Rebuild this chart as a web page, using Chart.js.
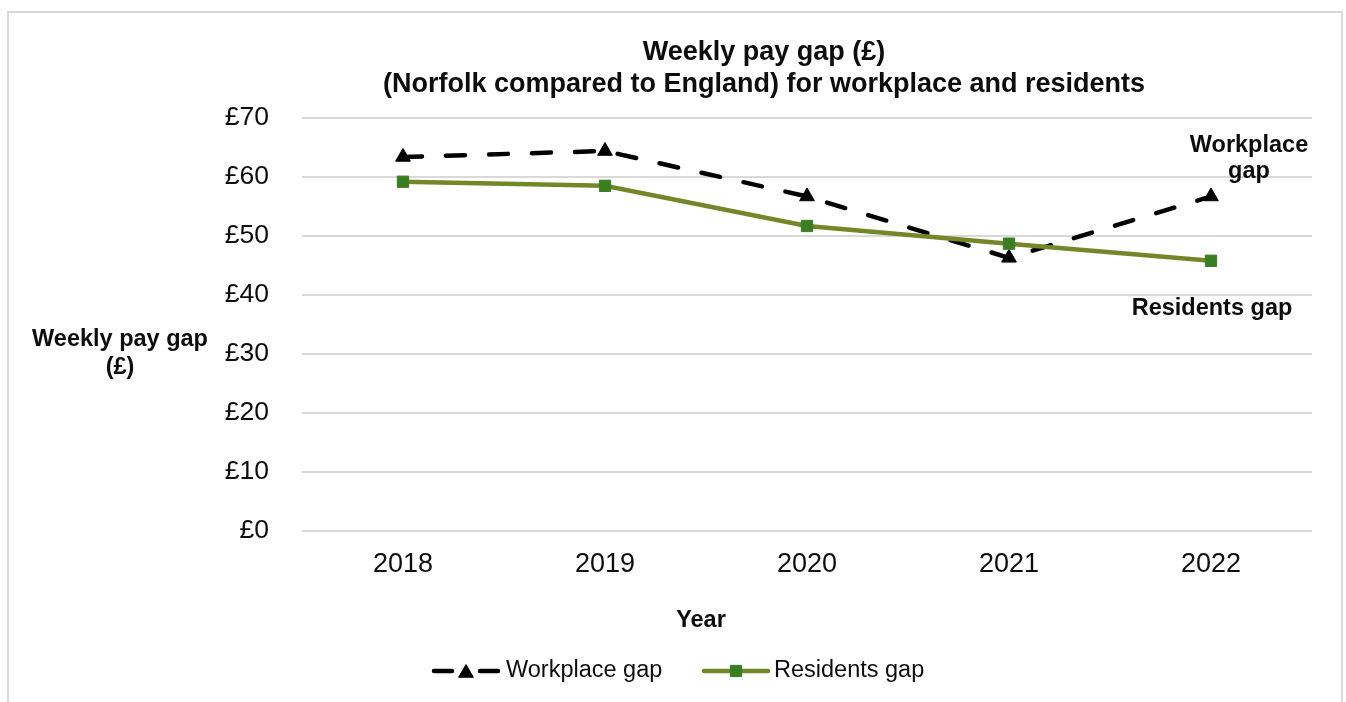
<!DOCTYPE html>
<html>
<head>
<meta charset="utf-8">
<title>Weekly pay gap</title>
<script src="https://cdn.jsdelivr.net/npm/chart.js@4.4.1/dist/chart.umd.min.js"></script>
<style>
  html, body { margin: 0; padding: 0; background: #fff; }
  #wrap { position: relative; width: 1346px; height: 702px; overflow: hidden; }
  #frame { position: absolute; left: 7px; top: 11px; width: 1336px; height: 720px; border: 2px solid #d9d9d9; box-sizing: border-box; }
  #payGapChart { position: absolute; left: 0; top: 0; }
</style>
</head>
<body>
<div id="wrap">
  <div id="frame"></div>
  <canvas id="payGapChart" width="1346" height="702"></canvas>
</div>
<script>
// weekly pay gap, Norfolk vs England (£)
const years = ['2018', '2019', '2020', '2021', '2022'];
const workplaceGap = [63.4, 64.4, 56.7, 46.3, 56.7];
const residentsGap = [59.2, 58.5, 51.7, 48.7, 45.8];
const yTicks = [0, 10, 20, 30, 40, 50, 60, 70];

const seriesNames = ['Workplace gap', 'Residents gap'];
const chartTitle = ['Weekly pay gap (£)', '(Norfolk compared to England) for workplace and residents'];
const yTitle = ['Weekly pay gap', '(£)'];
const xTitle = 'Year';
const endLabels = [['Workplace', 'gap'], ['Residents gap']];

const FONT = '"Liberation Sans", Arial, Helvetica, sans-serif';
const TEXT = '#0d0d0d';

// titles, axis titles, end-of-line labels and the legend are drawn by hand
const textPlugin = {
    id: 'payGapText',
    afterDraw(chart) {
        const { ctx } = chart;
        const xs = chart.scales.x;
        const ys = chart.scales.y;
        ctx.save();
        ctx.fillStyle = TEXT;
        ctx.textAlign = 'center';
        ctx.textBaseline = 'middle';

        ctx.font = `bold 27px ${FONT}`;
        chartTitle.forEach((line, i) => ctx.fillText(line, 764, 53 + i * 32));

        ctx.font = `bold 23.5px ${FONT}`;
        yTitle.forEach((line, i) => ctx.fillText(line, 120, 340 + i * 28));
        ctx.fillText(xTitle, 701, 621);

        // labels next to the last point of each line
        const last = years.length - 1;
        const xEnd = xs.getPixelForValue(last);
        const yW = ys.getPixelForValue(workplaceGap[last]);
        const yR = ys.getPixelForValue(residentsGap[last]);
        endLabels[0].forEach((line, i) => ctx.fillText(line, xEnd + 38, yW - 51 + i * 26));
        endLabels[1].forEach((line, i) => ctx.fillText(line, xEnd + 1, yR + 48));

        // legend: short line sample with marker, then the name
        ctx.font = `23.5px ${FONT}`;
        ctx.textAlign = 'left';
        const legendY = 671;
        const starts = [434, 704];
        const len = 64;
        chart.data.datasets.forEach((ds, i) => {
            const x0 = starts[i];
            ctx.save();
            ctx.strokeStyle = ds.borderColor;
            ctx.lineWidth = ds.borderWidth;
            ctx.lineCap = 'round';
            if (ds.borderDash) {
                // dash either side of the marker
                ctx.beginPath();
                ctx.moveTo(x0, legendY);
                ctx.lineTo(x0 + 18, legendY);
                ctx.moveTo(x0 + len - 18, legendY);
                ctx.lineTo(x0 + len, legendY);
                ctx.stroke();
            } else {
                ctx.beginPath();
                ctx.moveTo(x0, legendY);
                ctx.lineTo(x0 + len, legendY);
                ctx.stroke();
            }
            ctx.restore();

            ctx.save();
            ctx.fillStyle = ds.pointBackgroundColor;
            ctx.strokeStyle = ds.pointBorderColor;
            ctx.lineWidth = ds.pointBorderWidth;
            Chart.helpers.drawPoint(ctx, { pointStyle: ds.pointStyle, radius: ds.pointRadius, rotation: 0, borderWidth: ds.pointBorderWidth }, x0 + len / 2, legendY + (ds.pointStyle === 'triangle' ? 2 : 0));
            ctx.restore();

            ctx.fillText(ds.label, x0 + len + (i === 0 ? 8 : 6), legendY);
        });
        ctx.restore();
    }
};

new Chart(document.getElementById('payGapChart'), {
    type: 'line',
    data: {
        labels: years,
        datasets: [{
            label: seriesNames[0],
            data: workplaceGap,
            order: 2,
            borderColor: '#000000',
            borderWidth: 4.5,
            borderDash: [19, 24],
            borderCapStyle: 'round',
            pointStyle: 'triangle',
            pointRadius: 8.5,
            pointBackgroundColor: '#000000',
            pointBorderColor: '#000000',
            pointBorderWidth: 1,
            tension: 0
        }, {
            label: seriesNames[1],
            data: residentsGap,
            order: 1,
            borderColor: '#738729',
            borderWidth: 4.5,
            borderCapStyle: 'round',
            pointStyle: 'rect',
            pointRadius: 8,
            pointBackgroundColor: '#3b7d23',
            pointBorderColor: '#3b7d23',
            pointBorderWidth: 1,
            tension: 0
        }]
    },
    options: {
        responsive: false,
        animation: false,
        layout: { padding: { left: 0, right: 34, top: 118, bottom: 0 } },
        plugins: {
            legend: { display: false },
            title: { display: false },
            tooltip: { enabled: false }
        },
        scales: {
            x: {
                offset: true,
                grid: { display: false, drawTicks: false },
                border: { display: false },
                ticks: { color: TEXT, font: { family: FONT, size: 27 }, padding: 17 },
                afterFit: (s) => { s.height = 171; }
            },
            y: {
                min: yTicks[0],
                max: yTicks[yTicks.length - 1],
                grid: { color: '#d9d9d9', lineWidth: 2, drawTicks: false },
                border: { display: false },
                ticks: {
                    stepSize: yTicks[1] - yTicks[0],
                    color: TEXT,
                    font: { family: FONT, size: 26.5 },
                    padding: 33,
                    callback: (v) => '£' + v
                },
                afterFit: (s) => { s.width = 302; }
            }
        }
    },
    plugins: [textPlugin]
});
</script>
</body>
</html>
